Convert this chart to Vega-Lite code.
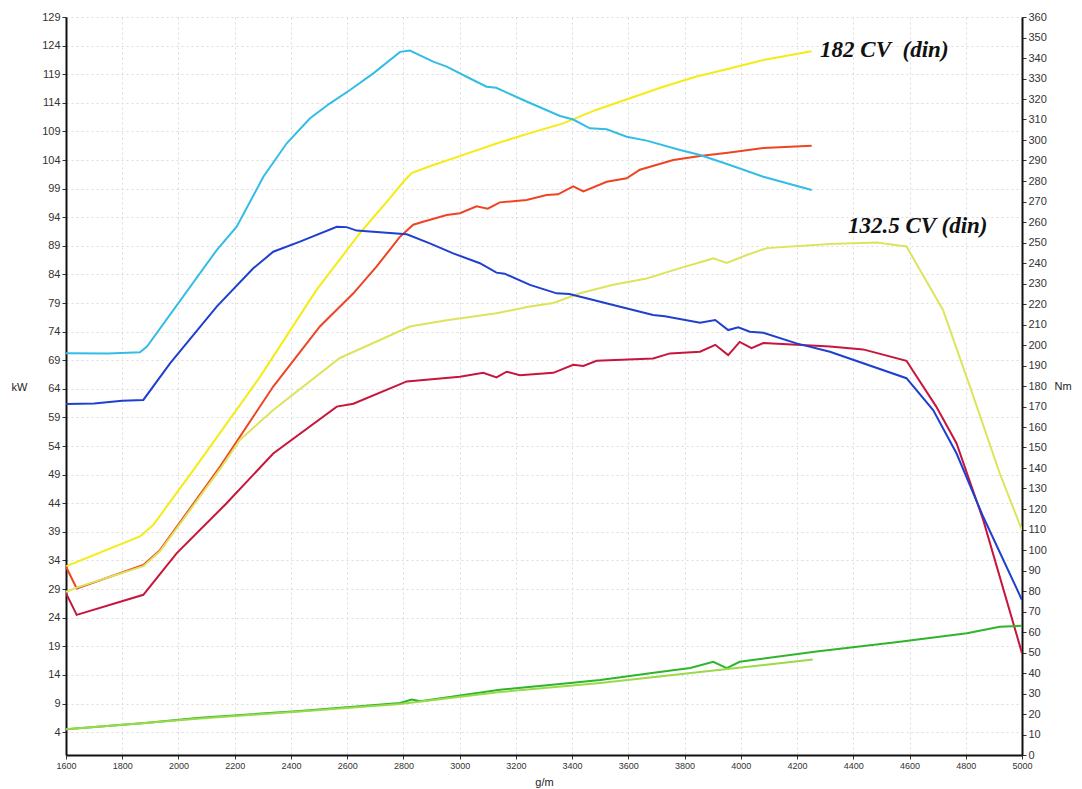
{
  "$schema": "https://vega.github.io/schema/vega-lite/v6.json",
  "width": 956,
  "height": 738,
  "autosize": {"type": "none"},
  "padding": {"left": 66, "top": 17, "right": 60, "bottom": 34},
  "background": "white",
  "config": {
    "view": {"stroke": null},
    "font": "Liberation Sans",
    "axis": {
      "domainColor": "#111",
      "domainWidth": 2,
      "tickColor": "#333",
      "tickSize": 4,
      "labelColor": "#333",
      "titleColor": "#222",
      "titleFontWeight": "normal",
      "titleFontSize": 11,
      "gridColor": "#dcdcdc",
      "gridDash": [2, 3],
      "gridWidth": 1
    }
  },
  "datasets": {
    "kw": [
      {"s": "kW182", "rpm": 1600, "v": 33.0},
      {"s": "kW182", "rpm": 1863, "v": 38.2},
      {"s": "kW182", "rpm": 1910, "v": 40.2},
      {"s": "kW182", "rpm": 2053, "v": 49.8},
      {"s": "kW182", "rpm": 2290, "v": 66.1},
      {"s": "kW182", "rpm": 2491, "v": 81.3},
      {"s": "kW182", "rpm": 2645, "v": 91.2},
      {"s": "kW182", "rpm": 2746, "v": 97.0},
      {"s": "kW182", "rpm": 2800, "v": 100.2},
      {"s": "kW182", "rpm": 2829, "v": 101.7},
      {"s": "kW182", "rpm": 2894, "v": 102.9},
      {"s": "kW182", "rpm": 3013, "v": 104.9},
      {"s": "kW182", "rpm": 3131, "v": 106.9},
      {"s": "kW182", "rpm": 3250, "v": 108.7},
      {"s": "kW182", "rpm": 3368, "v": 110.4},
      {"s": "kW182", "rpm": 3487, "v": 112.8},
      {"s": "kW182", "rpm": 3606, "v": 114.8},
      {"s": "kW182", "rpm": 3724, "v": 116.8},
      {"s": "kW182", "rpm": 3843, "v": 118.6},
      {"s": "kW182", "rpm": 3961, "v": 120.0},
      {"s": "kW182", "rpm": 4080, "v": 121.5},
      {"s": "kW182", "rpm": 4252, "v": 123.0},

      {"s": "kWruota182", "rpm": 1600, "v": 32.9},
      {"s": "kWruota182", "rpm": 1638, "v": 29.1},
      {"s": "kWruota182", "rpm": 1875, "v": 33.2},
      {"s": "kWruota182", "rpm": 1934, "v": 35.8},
      {"s": "kWruota182", "rpm": 2148, "v": 50.4},
      {"s": "kWruota182", "rpm": 2337, "v": 64.4},
      {"s": "kWruota182", "rpm": 2503, "v": 74.9},
      {"s": "kWruota182", "rpm": 2622, "v": 80.7},
      {"s": "kWruota182", "rpm": 2705, "v": 85.4},
      {"s": "kWruota182", "rpm": 2788, "v": 90.6},
      {"s": "kWruota182", "rpm": 2835, "v": 92.7},
      {"s": "kWruota182", "rpm": 2870, "v": 93.2},
      {"s": "kWruota182", "rpm": 2954, "v": 94.4},
      {"s": "kWruota182", "rpm": 3001, "v": 94.7},
      {"s": "kWruota182", "rpm": 3060, "v": 95.9},
      {"s": "kWruota182", "rpm": 3100, "v": 95.5},
      {"s": "kWruota182", "rpm": 3143, "v": 96.6},
      {"s": "kWruota182", "rpm": 3238, "v": 97.0},
      {"s": "kWruota182", "rpm": 3309, "v": 97.9},
      {"s": "kWruota182", "rpm": 3350, "v": 98.0},
      {"s": "kWruota182", "rpm": 3404, "v": 99.4},
      {"s": "kWruota182", "rpm": 3440, "v": 98.5},
      {"s": "kWruota182", "rpm": 3523, "v": 100.2},
      {"s": "kWruota182", "rpm": 3594, "v": 100.8},
      {"s": "kWruota182", "rpm": 3641, "v": 102.3},
      {"s": "kWruota182", "rpm": 3760, "v": 104.0},
      {"s": "kWruota182", "rpm": 3855, "v": 104.7},
      {"s": "kWruota182", "rpm": 3961, "v": 105.3},
      {"s": "kWruota182", "rpm": 4080, "v": 106.1},
      {"s": "kWruota182", "rpm": 4252, "v": 106.5},

      {"s": "kW132", "rpm": 1600, "v": 28.5},
      {"s": "kW132", "rpm": 1640, "v": 29.3},
      {"s": "kW132", "rpm": 1875, "v": 33.0},
      {"s": "kW132", "rpm": 1934, "v": 35.6},
      {"s": "kW132", "rpm": 2148, "v": 50.0},
      {"s": "kW132", "rpm": 2219, "v": 55.1},
      {"s": "kW132", "rpm": 2337, "v": 60.3},
      {"s": "kW132", "rpm": 2574, "v": 69.4},
      {"s": "kW132", "rpm": 2823, "v": 74.9},
      {"s": "kW132", "rpm": 2954, "v": 76.0},
      {"s": "kW132", "rpm": 3131, "v": 77.2},
      {"s": "kW132", "rpm": 3250, "v": 78.4},
      {"s": "kW132", "rpm": 3333, "v": 79.0},
      {"s": "kW132", "rpm": 3428, "v": 80.7},
      {"s": "kW132", "rpm": 3546, "v": 82.2},
      {"s": "kW132", "rpm": 3665, "v": 83.3},
      {"s": "kW132", "rpm": 3784, "v": 85.1},
      {"s": "kW132", "rpm": 3902, "v": 86.8},
      {"s": "kW132", "rpm": 3950, "v": 86.0},
      {"s": "kW132", "rpm": 4021, "v": 87.4},
      {"s": "kW132", "rpm": 4092, "v": 88.6},
      {"s": "kW132", "rpm": 4317, "v": 89.3},
      {"s": "kW132", "rpm": 4482, "v": 89.6},
      {"s": "kW132", "rpm": 4589, "v": 88.9},
      {"s": "kW132", "rpm": 4719, "v": 77.8},
      {"s": "kW132", "rpm": 4815, "v": 64.4},
      {"s": "kW132", "rpm": 4921, "v": 49.2},
      {"s": "kW132", "rpm": 5000, "v": 39.3},

      {"s": "kWruota132", "rpm": 1600, "v": 28.3},
      {"s": "kWruota132", "rpm": 1638, "v": 24.5},
      {"s": "kWruota132", "rpm": 1875, "v": 28.0},
      {"s": "kWruota132", "rpm": 1994, "v": 35.3},
      {"s": "kWruota132", "rpm": 2171, "v": 44.0},
      {"s": "kWruota132", "rpm": 2337, "v": 52.7},
      {"s": "kWruota132", "rpm": 2563, "v": 60.9},
      {"s": "kWruota132", "rpm": 2622, "v": 61.4},
      {"s": "kWruota132", "rpm": 2812, "v": 65.3},
      {"s": "kWruota132", "rpm": 3001, "v": 66.1},
      {"s": "kWruota132", "rpm": 3084, "v": 66.8},
      {"s": "kWruota132", "rpm": 3131, "v": 66.0},
      {"s": "kWruota132", "rpm": 3167, "v": 67.0},
      {"s": "kWruota132", "rpm": 3214, "v": 66.4},
      {"s": "kWruota132", "rpm": 3333, "v": 66.8},
      {"s": "kWruota132", "rpm": 3404, "v": 68.2},
      {"s": "kWruota132", "rpm": 3440, "v": 68.0},
      {"s": "kWruota132", "rpm": 3487, "v": 68.9},
      {"s": "kWruota132", "rpm": 3688, "v": 69.3},
      {"s": "kWruota132", "rpm": 3748, "v": 70.2},
      {"s": "kWruota132", "rpm": 3855, "v": 70.5},
      {"s": "kWruota132", "rpm": 3909, "v": 71.7},
      {"s": "kWruota132", "rpm": 3955, "v": 69.9},
      {"s": "kWruota132", "rpm": 3996, "v": 72.2},
      {"s": "kWruota132", "rpm": 4038, "v": 71.1},
      {"s": "kWruota132", "rpm": 4080, "v": 72.0},
      {"s": "kWruota132", "rpm": 4198, "v": 71.7},
      {"s": "kWruota132", "rpm": 4317, "v": 71.4},
      {"s": "kWruota132", "rpm": 4435, "v": 70.9},
      {"s": "kWruota132", "rpm": 4589, "v": 68.9},
      {"s": "kWruota132", "rpm": 4695, "v": 60.9},
      {"s": "kWruota132", "rpm": 4767, "v": 54.5},
      {"s": "kWruota132", "rpm": 4862, "v": 41.1},
      {"s": "kWruota132", "rpm": 5000, "v": 17.8},

      {"s": "perdite132", "rpm": 1600, "v": 4.5},
      {"s": "perdite132", "rpm": 1881, "v": 5.6},
      {"s": "perdite132", "rpm": 2077, "v": 6.5},
      {"s": "perdite132", "rpm": 2432, "v": 7.7},
      {"s": "perdite132", "rpm": 2788, "v": 9.1},
      {"s": "perdite132", "rpm": 2830, "v": 9.7},
      {"s": "perdite132", "rpm": 2860, "v": 9.4},
      {"s": "perdite132", "rpm": 3143, "v": 11.4},
      {"s": "perdite132", "rpm": 3357, "v": 12.4},
      {"s": "perdite132", "rpm": 3500, "v": 13.1},
      {"s": "perdite132", "rpm": 3677, "v": 14.3},
      {"s": "perdite132", "rpm": 3820, "v": 15.2},
      {"s": "perdite132", "rpm": 3902, "v": 16.3},
      {"s": "perdite132", "rpm": 3950, "v": 15.2},
      {"s": "perdite132", "rpm": 3996, "v": 16.3},
      {"s": "perdite132", "rpm": 4269, "v": 18.1},
      {"s": "perdite132", "rpm": 4566, "v": 19.8},
      {"s": "perdite132", "rpm": 4804, "v": 21.3},
      {"s": "perdite132", "rpm": 4921, "v": 22.4},
      {"s": "perdite132", "rpm": 5000, "v": 22.6},

      {"s": "perdite182", "rpm": 1600, "v": 4.5},
      {"s": "perdite182", "rpm": 1881, "v": 5.6},
      {"s": "perdite182", "rpm": 2077, "v": 6.4},
      {"s": "perdite182", "rpm": 2432, "v": 7.6},
      {"s": "perdite182", "rpm": 2788, "v": 8.9},
      {"s": "perdite182", "rpm": 3143, "v": 11.0},
      {"s": "perdite182", "rpm": 3500, "v": 12.6},
      {"s": "perdite182", "rpm": 3855, "v": 14.5},
      {"s": "perdite182", "rpm": 4256, "v": 16.7}
    ],
    "nm": [
      {"s": "Nm182", "rpm": 1600, "v": 196.0},
      {"s": "Nm182", "rpm": 1750, "v": 195.8},
      {"s": "Nm182", "rpm": 1863, "v": 196.5},
      {"s": "Nm182", "rpm": 1888, "v": 199.2},
      {"s": "Nm182", "rpm": 2136, "v": 246.3},
      {"s": "Nm182", "rpm": 2207, "v": 257.7},
      {"s": "Nm182", "rpm": 2302, "v": 282.1},
      {"s": "Nm182", "rpm": 2385, "v": 298.4},
      {"s": "Nm182", "rpm": 2468, "v": 310.6},
      {"s": "Nm182", "rpm": 2539, "v": 317.9},
      {"s": "Nm182", "rpm": 2610, "v": 324.4},
      {"s": "Nm182", "rpm": 2693, "v": 332.5},
      {"s": "Nm182", "rpm": 2788, "v": 343.0},
      {"s": "Nm182", "rpm": 2823, "v": 343.6},
      {"s": "Nm182", "rpm": 2906, "v": 338.2},
      {"s": "Nm182", "rpm": 2954, "v": 335.8},
      {"s": "Nm182", "rpm": 3037, "v": 330.0},
      {"s": "Nm182", "rpm": 3096, "v": 326.0},
      {"s": "Nm182", "rpm": 3130, "v": 325.5},
      {"s": "Nm182", "rpm": 3226, "v": 319.5},
      {"s": "Nm182", "rpm": 3357, "v": 311.7},
      {"s": "Nm182", "rpm": 3404, "v": 310.0},
      {"s": "Nm182", "rpm": 3463, "v": 305.7},
      {"s": "Nm182", "rpm": 3523, "v": 305.2},
      {"s": "Nm182", "rpm": 3594, "v": 301.6},
      {"s": "Nm182", "rpm": 3665, "v": 299.7},
      {"s": "Nm182", "rpm": 3784, "v": 295.1},
      {"s": "Nm182", "rpm": 3855, "v": 292.7},
      {"s": "Nm182", "rpm": 3961, "v": 287.8},
      {"s": "Nm182", "rpm": 4080, "v": 282.1},
      {"s": "Nm182", "rpm": 4252, "v": 275.6},

      {"s": "Nm132", "rpm": 1600, "v": 171.2},
      {"s": "Nm132", "rpm": 1700, "v": 171.5},
      {"s": "Nm132", "rpm": 1800, "v": 172.8},
      {"s": "Nm132", "rpm": 1875, "v": 173.2},
      {"s": "Nm132", "rpm": 1970, "v": 191.0},
      {"s": "Nm132", "rpm": 2136, "v": 218.7},
      {"s": "Nm132", "rpm": 2266, "v": 237.4},
      {"s": "Nm132", "rpm": 2337, "v": 245.5},
      {"s": "Nm132", "rpm": 2432, "v": 250.4},
      {"s": "Nm132", "rpm": 2563, "v": 257.7},
      {"s": "Nm132", "rpm": 2598, "v": 257.5},
      {"s": "Nm132", "rpm": 2634, "v": 255.8},
      {"s": "Nm132", "rpm": 2764, "v": 254.5},
      {"s": "Nm132", "rpm": 2812, "v": 254.0},
      {"s": "Nm132", "rpm": 2894, "v": 249.6},
      {"s": "Nm132", "rpm": 2977, "v": 244.7},
      {"s": "Nm132", "rpm": 3072, "v": 239.9},
      {"s": "Nm132", "rpm": 3131, "v": 235.3},
      {"s": "Nm132", "rpm": 3160, "v": 234.8},
      {"s": "Nm132", "rpm": 3250, "v": 229.3},
      {"s": "Nm132", "rpm": 3345, "v": 225.2},
      {"s": "Nm132", "rpm": 3390, "v": 224.9},
      {"s": "Nm132", "rpm": 3451, "v": 222.8},
      {"s": "Nm132", "rpm": 3546, "v": 219.5},
      {"s": "Nm132", "rpm": 3688, "v": 214.6},
      {"s": "Nm132", "rpm": 3730, "v": 214.0},
      {"s": "Nm132", "rpm": 3855, "v": 210.9},
      {"s": "Nm132", "rpm": 3909, "v": 212.2},
      {"s": "Nm132", "rpm": 3955, "v": 207.3},
      {"s": "Nm132", "rpm": 3991, "v": 208.6},
      {"s": "Nm132", "rpm": 4032, "v": 206.5},
      {"s": "Nm132", "rpm": 4080, "v": 206.0},
      {"s": "Nm132", "rpm": 4198, "v": 200.8},
      {"s": "Nm132", "rpm": 4317, "v": 196.7},
      {"s": "Nm132", "rpm": 4589, "v": 183.8},
      {"s": "Nm132", "rpm": 4684, "v": 168.3},
      {"s": "Nm132", "rpm": 4767, "v": 147.2},
      {"s": "Nm132", "rpm": 4862, "v": 116.2},
      {"s": "Nm132", "rpm": 5000, "v": 75.6}
    ],
    "labels": [
      {"rpm": 4282, "v": 123.3, "t": "182 CV\u00a0\u00a0(din)"},
      {"rpm": 4381, "v": 92.5, "t": "132.5 CV (din)"}
    ]
  },
  "layer": [
    {
      "data": {"name": "kw"},
      "mark": {"type": "line", "strokeWidth": 2, "clip": true},
      "encoding": {
        "x": {
          "field": "rpm", "type": "quantitative",
          "scale": {"domain": [1600, 5000], "nice": false, "zero": false},
          "axis": {
            "values": [1600, 1800, 2000, 2200, 2400, 2600, 2800, 3000, 3200, 3400, 3600, 3800, 4000, 4200, 4400, 4600, 4800, 5000],
            "format": "d",
            "labelFontSize": 9,
            "labelOverlap": false,
            "labelBound": false,
            "labelFlush": false,
            "title": "g/m",
            "titleY": 27,
            "titleBaseline": "middle",
            "grid": true
          }
        },
        "y": {
          "field": "v", "type": "quantitative",
          "scale": {"domain": [0, 129], "nice": false, "zero": true},
          "axis": {
            "orient": "left",
            "values": [4, 9, 14, 19, 24, 29, 34, 39, 44, 49, 54, 59, 64, 69, 74, 79, 84, 89, 94, 99, 104, 109, 114, 119, 124, 129],
            "labelFontSize": 11,
            "labelOverlap": false,
            "labelBound": false,
            "labelFlush": false,
            "title": "kW",
            "titleAngle": 0,
            "titleX": -55,
            "titleY": 370,
            "titleAlign": "left",
            "titleBaseline": "middle",
            "grid": true
          }
        },
        "color": {
          "field": "s", "type": "nominal",
          "scale": {
            "domain": ["kW182", "kWruota182", "kW132", "kWruota132", "perdite132", "perdite182", "Nm182", "Nm132"],
            "range": ["#f4ec14", "#ee4422", "#dde45c", "#c8153c", "#2fb52a", "#9ad94a", "#33bde6", "#1f3fd0"]
          },
          "legend": null
        }
      }
    },
    {
      "data": {"name": "nm"},
      "mark": {"type": "line", "strokeWidth": 2, "clip": true},
      "encoding": {
        "x": {"field": "rpm", "type": "quantitative"},
        "y": {
          "field": "v", "type": "quantitative",
          "scale": {"domain": [0, 360], "nice": false, "zero": true},
          "axis": {
            "orient": "right",
            "values": [0, 10, 20, 30, 40, 50, 60, 70, 80, 90, 100, 110, 120, 130, 140, 150, 160, 170, 180, 190, 200, 210, 220, 230, 240, 250, 260, 270, 280, 290, 300, 310, 320, 330, 340, 350, 360],
            "labelFontSize": 11,
            "labelOverlap": false,
            "labelBound": false,
            "labelFlush": false,
            "title": "Nm",
            "titleAngle": 0,
            "titleX": 32,
            "titleY": 369,
            "titleAlign": "left",
            "titleBaseline": "middle",
            "grid": false
          }
        },
        "color": {"field": "s", "type": "nominal", "legend": null}
      }
    },
    {
      "data": {"name": "labels"},
      "mark": {
        "type": "text",
        "font": "Liberation Serif",
        "fontStyle": "italic",
        "fontWeight": "bold",
        "fontSize": 23,
        "align": "left",
        "baseline": "middle",
        "color": "#111"
      },
      "encoding": {
        "x": {"field": "rpm", "type": "quantitative"},
        "y": {
          "field": "v", "type": "quantitative",
          "scale": {"domain": [0, 129], "nice": false, "zero": true},
          "axis": null
        },
        "text": {"field": "t"}
      }
    }
  ],
  "resolve": {"scale": {"y": "independent"}}
}
